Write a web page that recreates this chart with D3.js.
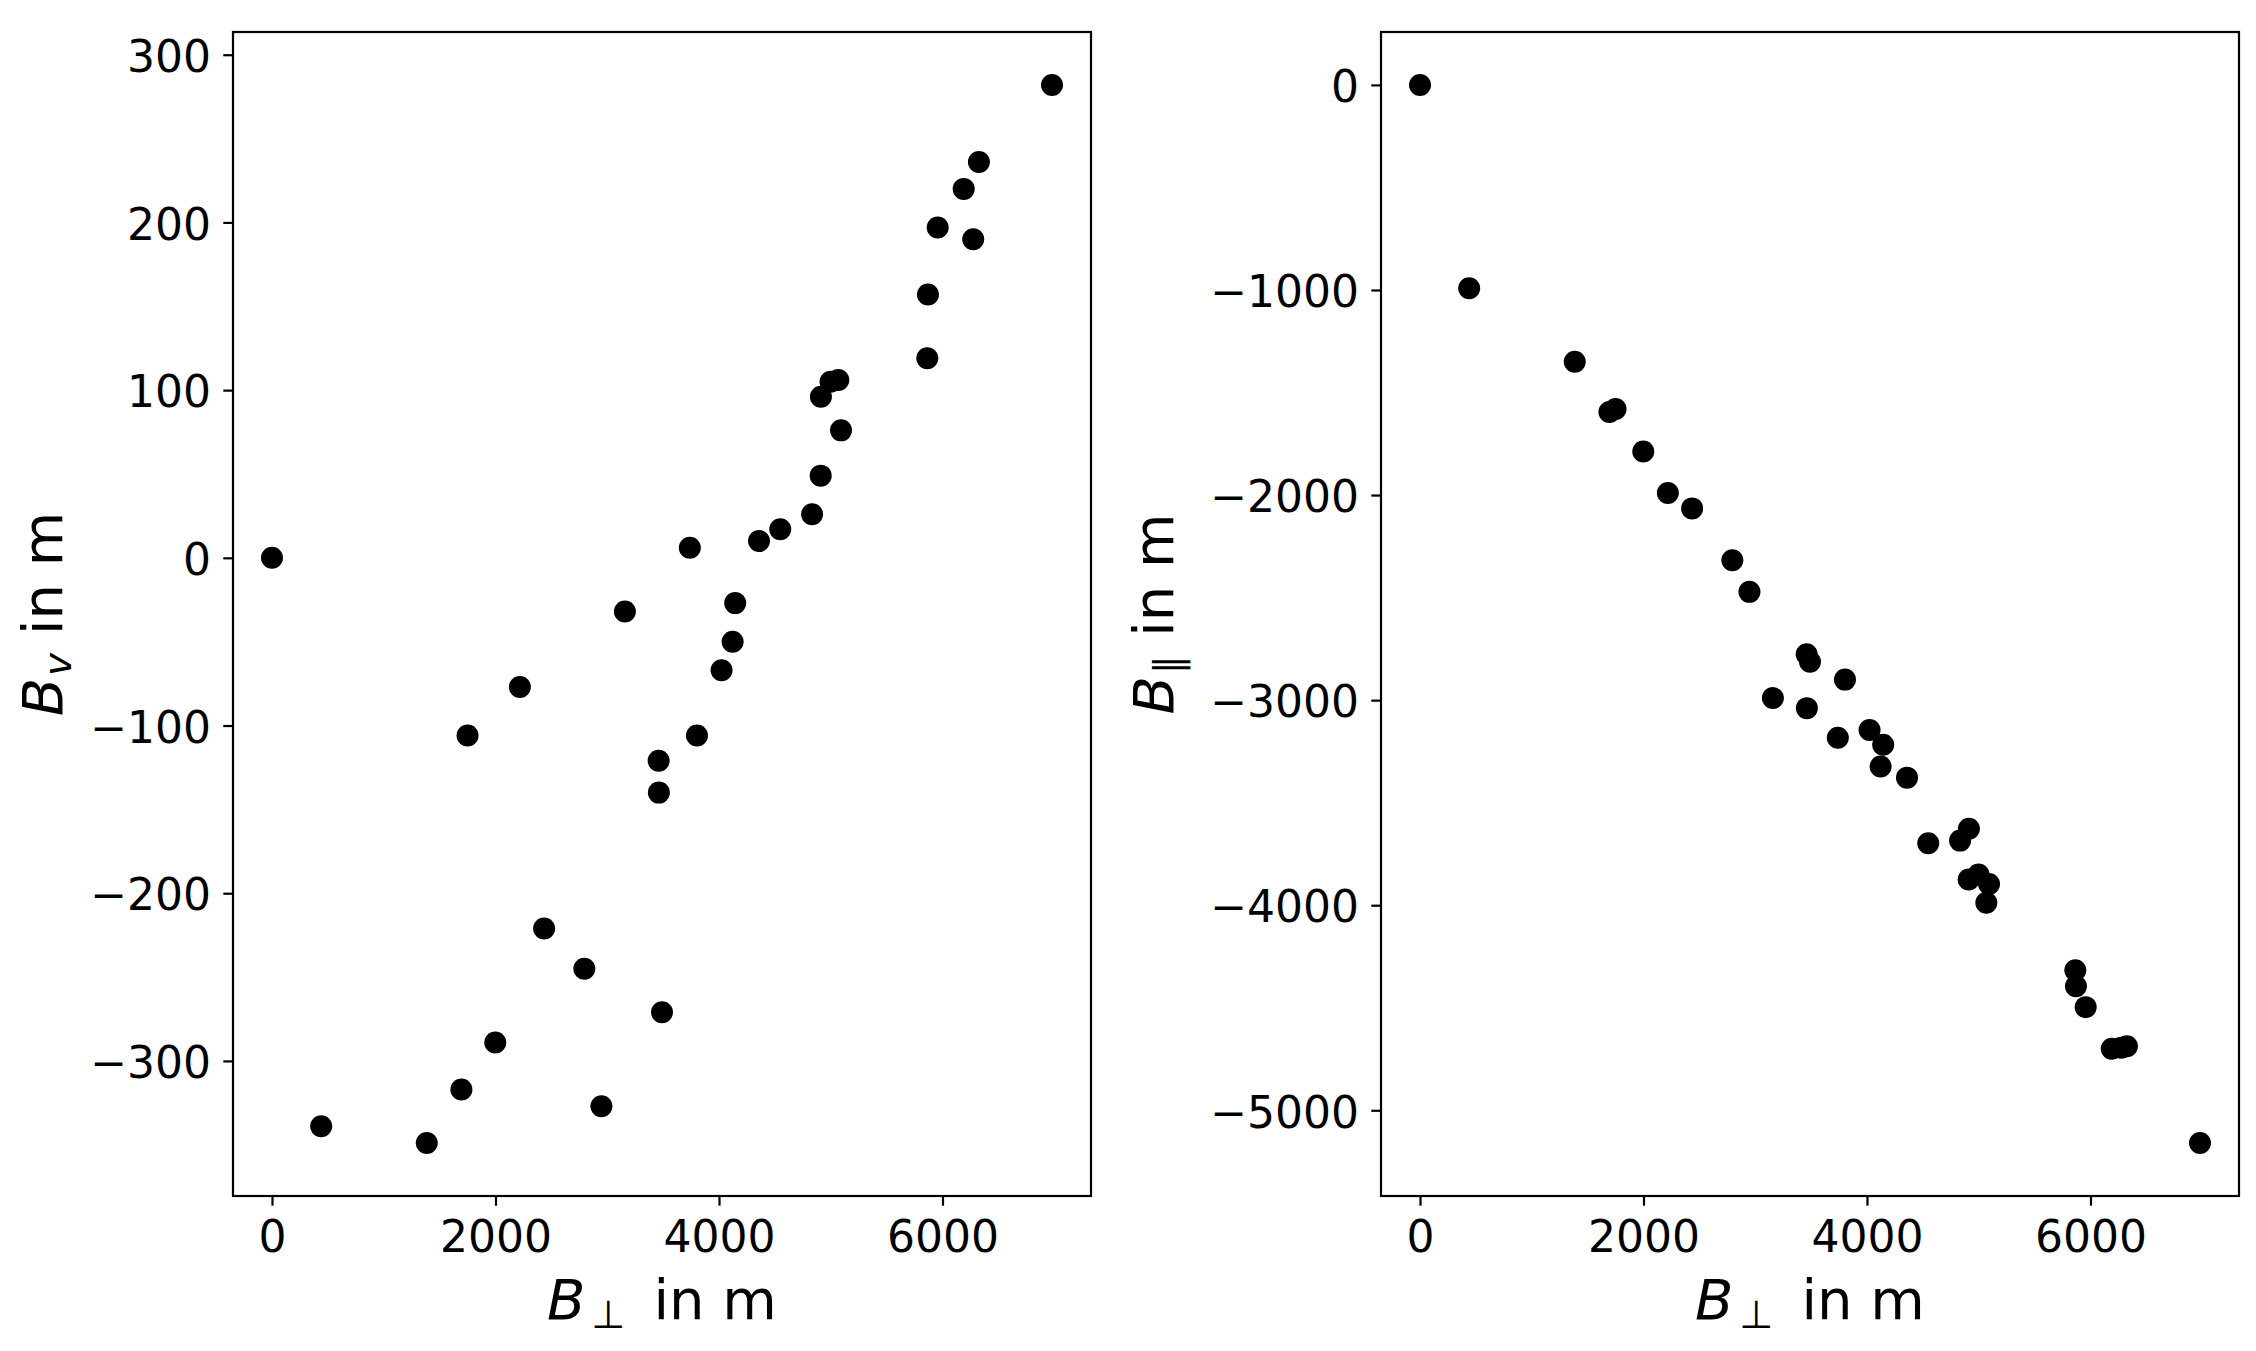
<!DOCTYPE html>
<html>
<head>
<meta charset="utf-8">
<script src="https://cdn.jsdelivr.net/npm/d3@7"></script>
<style>
  body { margin: 0; background: #fff; }
  svg { display: block; font-family: "DejaVu Sans", sans-serif; }
</style>
</head>
<body>
<div id="chart"></div>
<script>
// baseline components (m)
const bPerp = [0, 440, 1385, 1695, 1750, 1998, 2218, 2435, 2795, 2948, 3158, 3460, 3462, 3490, 3739, 3803, 4023, 4122, 4145, 4358, 4548, 4833, 4910, 4912, 4998, 5068, 5092, 5864, 5870, 5957, 6190, 6275, 6326, 6980];
const bV = [0, -339, -349, -317, -106, -289, -77, -221, -245, -327, -32, -121, -140, -271, 6, -106, -67, -50, -27, 10, 17, 26, 49, 96, 105, 106, 76, 119, 157, 197, 220, 190, 236, 282];
const bPar = [0, -992, -1350, -1595, -1580, -1788, -1990, -2065, -2318, -2472, -2990, -2776, -3039, -2813, -3183, -2900, -3146, -3324, -3218, -3378, -3698, -3685, -3875, -3627, -3850, -3988, -3897, -4317, -4395, -4497, -4700, -4695, -4688, -5160];

const xTicks = [0, 2000, 4000, 6000];
const vTicks = [-300, -200, -100, 0, 100, 200, 300];
const parTicks = [-5000, -4000, -3000, -2000, -1000, 0];

const W = 2256, H = 1351;
const TOP = 32, PH = 1164, PW = 858;
const TICK = 9.7, LW = 2.2, R = 11;

// matplotlib-like 5% margins
function padded(vals) {
  const [lo, hi] = d3.extent(vals);
  const p = (hi - lo) * 0.05;
  return [lo - p, hi + p];
}

const panels = [
  { left: 233, ys: bV, ticks: vTicks, sub: 'v', subItalic: true, labelX: 62 },
  { left: 1381, ys: bPar, ticks: parTicks, sub: '\u2225', subItalic: false, labelX: 1173 }
];

const svg = d3.select('#chart').append('svg')
  .attr('width', W)
  .attr('height', H);

svg.append('rect').attr('width', W).attr('height', H).attr('fill', '#fff');

const fmt = d3.format('d');

panels.forEach(p => {
  const x = d3.scaleLinear().domain(padded(bPerp)).range([p.left, p.left + PW]);
  const y = d3.scaleLinear().domain(padded(p.ys)).range([TOP + PH, TOP]);

  // points
  svg.append('g').selectAll('circle')
    .data(bPerp.map((b, i) => [b, p.ys[i]]))
    .join('circle')
      .attr('cx', d => x(d[0]))
      .attr('cy', d => y(d[1]))
      .attr('r', R)
      .attr('fill', '#000');

  // x axis
  const gx = svg.append('g')
    .attr('transform', `translate(0,${TOP + PH})`)
    .call(d3.axisBottom(x).tickValues(xTicks).tickFormat(fmt).tickSize(TICK).tickPadding(15));
  // y axis
  const gy = svg.append('g')
    .attr('transform', `translate(${p.left},0)`)
    .call(d3.axisLeft(y).tickValues(p.ticks).tickFormat(fmt).tickSize(TICK).tickPadding(12.3));

  [gx, gy].forEach(g => {
    g.select('.domain').remove();
    g.selectAll('.tick line').attr('stroke', '#000').attr('stroke-width', LW);
    g.selectAll('.tick text')
      .attr('fill', '#000')
      .style('font-size', '44px')
      .style('font-family', '"DejaVu Sans", sans-serif');
  });
  gy.selectAll('.tick text').attr('dy', '0.38em');

  // frame
  svg.append('rect')
    .attr('x', p.left).attr('y', TOP)
    .attr('width', PW).attr('height', PH)
    .attr('fill', 'none')
    .attr('stroke', '#000')
    .attr('stroke-width', LW);

  // x label: B_perp in m
  const xl = svg.append('text')
    .attr('x', p.left + PW / 2)
    .attr('y', 1319)
    .attr('text-anchor', 'middle')
    .style('font-size', '56px');
  xl.append('tspan').attr('font-style', 'italic').text('B');
  xl.append('tspan').attr('dx', 6).attr('dy', 9).style('font-size', '39px').text('\u22A5');
  xl.append('tspan').attr('dy', -9).text('\u2002in m');

  // y label
  const yl = svg.append('text')
    .attr('transform', `translate(${p.labelX},${TOP + PH / 2}) rotate(-90)`)
    .attr('text-anchor', 'middle')
    .style('font-size', '56px');
  yl.append('tspan').attr('font-style', 'italic').text('B');
  yl.append('tspan')
    .attr('dx', 2).attr('dy', 9)
    .attr('font-style', p.subItalic ? 'italic' : 'normal')
    .style('font-size', '39px')
    .text(p.sub);
  yl.append('tspan').attr('dy', -9).text(' in m');
});
</script>
</body>
</html>
